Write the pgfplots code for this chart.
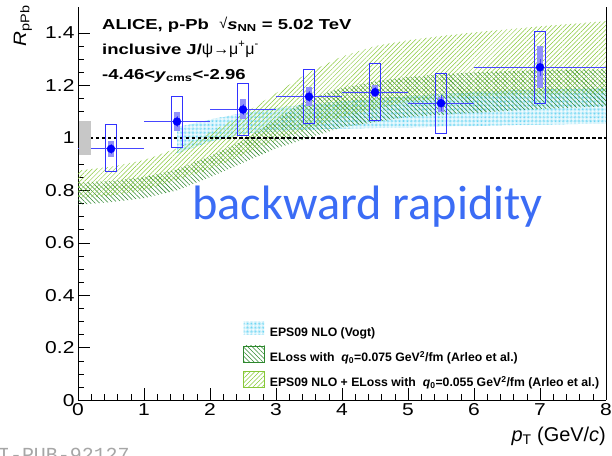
\documentclass[border=0pt]{standalone}
\usepackage{fontspec}
\setmainfont{Liberation Sans}
\newfontfamily\tickfont[FakeStretch=1.22]{Liberation Sans}
\newfontfamily\labfont[FakeStretch=1.15]{Liberation Sans}
\newfontfamily\annfont[FakeStretch=1.28]{Liberation Sans}
\newfontfamily\symfont{Liberation Sans}
\newfontfamily\calib{Carlito}
\newfontfamily\monof{Liberation Mono}
\usepackage{pgfplots}
\pgfplotsset{compat=1.18}
\usetikzlibrary{patterns.meta}
\definecolor{lgreen}{RGB}{135,200,55}
\definecolor{dgreen}{RGB}{45,135,45}
\definecolor{cyanb}{RGB}{80,205,240}
\definecolor{blueline}{RGB}{50,50,255}
\definecolor{barblue}{RGB}{70,70,255}
\definecolor{bluefill}{RGB}{145,145,250}
\definecolor{textblue}{RGB}{59,108,245}
\newcommand{\sysbox}[5]{\addplot[#5, forget plot] coordinates {(#1,#3) (#2,#3) (#2,#4) (#1,#4)} --cycle;}
\begin{document}
\begin{tikzpicture}
\begin{axis}[
  name=ax,
  scale only axis, width=528bp, height=393.5bp,
  xmin=0, xmax=8, ymin=0, ymax=1.5,
  axis x line*=bottom, axis y line*=box,
  xtick={0,1,2,3,4,5,6,7,8}, minor x tick num=4,
  ytick={0,0.2,0.4,0.6,0.8,1,1.2,1.4}, minor y tick num=3,
  xtick pos=bottom, ytick pos=left,
  tick align=inside,
  major tick length=12bp, minor tick length=6bp,
  tick style={black, line width=0.6pt},
  axis line style={line width=0.8pt},
  /pgf/number format/assume math mode=true,
  ticklabel style={font=\tickfont\fontsize{17.3}{19}\selectfont},
  xlabel={\fontsize{20}{22}\selectfont\textit{p}\textsubscript{T} (GeV/\textit{c})},
  xlabel style={at={(rel axis cs:1,-0.104)}, anchor=base east, inner sep=0pt},
  ylabel={\labfont\fontsize{18}{19}\selectfont\textit{R}\textsubscript{pPb}},
  ylabel style={at={(rel axis cs:-0.087,1.005)}, anchor=south east, inner sep=0pt},
  legend style={at={(rel axis cs:0.3125,0.2008)}, anchor=north west, draw=none, fill=none,
    inner sep=0pt, row sep=8bp, column sep=5bp,
    font=\bfseries\fontsize{12.3}{14}\selectfont, nodes={inner sep=0pt}},
  legend cell align=left,
  clip=false,
]
% EPS09 NLO (Vogt)
\addplot[draw=none, pattern={Dots[distance=1.35pt, radius=0.45pt]}, pattern color=cyanb,
  legend image code/.code={\path[pattern={Dots[distance=1.35pt, radius=0.45pt]}, pattern color=cyanb] (0bp,-2bp) rectangle (21bp,11bp);}]
 coordinates {(1.5,1.04) (2,1.07) (2.5,1.095) (3,1.115) (4,1.14) (5,1.16) (6,1.175) (7,1.185) (8,1.19)
  (8,1.055) (7,1.05) (6,1.045) (5,1.04) (4,1.035) (3,1.025) (2.5,1.015) (2,0.985) (1.5,0.94)} --cycle;
\addlegendentry{EPS09 NLO (Vogt)}
% ELoss q0=0.075
\addplot[draw=none, pattern={Lines[angle=-45, distance=3.2pt, line width=0.55pt]}, pattern color=dgreen,
  legend image code/.code={\draw[dgreen, line width=0.7pt, pattern={Lines[angle=-45, distance=3.2pt, line width=0.55pt]}, pattern color=dgreen] (0bp,-5bp) rectangle (21bp,11bp);}]
 coordinates {(0,0.83) (0.5,0.835) (1,0.85) (1.5,0.88) (2,0.93) (2.5,0.99) (3,1.07) (3.5,1.15) (4,1.19) (4.5,1.215) (5,1.232) (5.5,1.242) (6,1.25) (7,1.258) (8,1.262)
  (8,1.12) (7,1.11) (6,1.095) (5,1.08) (4,1.04) (3,0.96) (2,0.85) (1.5,0.80) (1,0.77) (0.5,0.755) (0,0.745)} --cycle;
\addlegendentry{ELoss with~ \textit{q}\textsubscript{0}=0.075 GeV\textsuperscript{2}/fm (Arleo et al.)}
% EPS09 NLO + ELoss q0=0.055
\addplot[draw=none, pattern={Lines[angle=45, distance=3.2pt, line width=0.5pt]}, pattern color=lgreen,
  legend image code/.code={\draw[lgreen, line width=0.7pt, pattern={Lines[angle=45, distance=3.2pt, line width=0.5pt]}, pattern color=lgreen] (0bp,-5bp) rectangle (21bp,11bp);}]
 coordinates {(0,0.875) (0.5,0.89) (1,0.915) (1.5,0.96) (2,1.02) (2.5,1.09) (3,1.17) (3.5,1.25) (4,1.31) (4.5,1.35) (5,1.372) (5.5,1.388) (6,1.402) (7,1.425) (8,1.445)
  (8,1.17) (7,1.165) (6,1.16) (5,1.14) (4,1.08) (3,0.99) (2,0.88) (1,0.80) (0.5,0.78) (0,0.77)} --cycle;
\addlegendentry{EPS09 NLO + ELoss with~ \textit{q}\textsubscript{0}=0.055 GeV\textsuperscript{2}/fm (Arleo et al.)}
% unity line
\addplot[black, line width=1.4pt, dash pattern=on 3.5pt off 2.5pt, forget plot] coordinates {(0,1) (8,1)};
% correlated syst boxes (filled)
\sysbox{0.455}{0.545}{0.928}{0.989}{fill=bluefill, draw=none}
\sysbox{1.455}{1.545}{1.028}{1.098}{fill=bluefill, draw=none}
\sysbox{2.455}{2.545}{1.072}{1.148}{fill=bluefill, draw=none}
\sysbox{3.455}{3.545}{1.123}{1.194}{fill=bluefill, draw=none}
\sysbox{4.455}{4.545}{1.155}{1.200}{fill=bluefill, draw=none}
\sysbox{5.455}{5.545}{1.100}{1.156}{fill=bluefill, draw=none}
\sysbox{6.955}{7.045}{1.190}{1.349}{fill=bluefill, draw=none}
% uncorrelated syst boxes (open)
\sysbox{0.42}{0.58}{0.870}{1.050}{draw=blueline, line width=1pt}
\sysbox{1.42}{1.58}{0.965}{1.158}{draw=blueline, line width=1pt}
\sysbox{2.42}{2.58}{1.010}{1.208}{draw=blueline, line width=1pt}
\sysbox{3.42}{3.58}{1.053}{1.262}{draw=blueline, line width=1pt}
\sysbox{4.42}{4.58}{1.068}{1.285}{draw=blueline, line width=1pt}
\sysbox{5.42}{5.58}{1.015}{1.247}{draw=blueline, line width=1pt}
\sysbox{6.92}{7.08}{1.132}{1.405}{draw=blueline, line width=1pt}
% data points with stat errors
\addplot[only marks, mark=*, mark size=4pt, color=blue, forget plot,
  error bars/.cd, x dir=both, x explicit, y dir=both, y explicit,
  error mark=none, error bar style={draw=barblue, color=barblue, solid, line width=1pt}]
 coordinates {
  (0.5,0.958) +- (0.5,0.02)
  (1.5,1.062) +- (0.5,0.02)
  (2.5,1.108) +- (0.5,0.02)
  (3.5,1.157) +- (0.5,0.02)
  (4.5,1.174) +- (0.5,0.02)
  (5.5,1.132) +- (0.5,0.03)
  (7.0,1.269) +- (1.0,0.033)
 };
% global uncertainty
\sysbox{0.01}{0.2}{0.935}{1.065}{fill=black!22, draw=none}
% texts
\node[anchor=base west, inner sep=0pt, font=\annfont\bfseries\fontsize{14.5}{16}\selectfont] at (axis cs:0.364,1.414)
  {ALICE, p-Pb~ \raisebox{0.1ex}{\symfont\mdseries √}\textit{s}\textsubscript{NN} = 5.02 TeV};
\node[anchor=base west, inner sep=0pt, font=\annfont\bfseries\fontsize{14.5}{16}\selectfont] at (axis cs:0.364,1.319)
  {inclusive J/{\symfont\mdseries\fontsize{16}{17}\selectfont ψ→μ\textsuperscript{+}μ\textsuperscript{-}}};
\node[anchor=base west, inner sep=0pt, font=\annfont\bfseries\fontsize{14.5}{16}\selectfont] at (axis cs:0.364,1.224)
  {-4.46<\textit{y}\textsubscript{cms}<-2.96};
\node[anchor=base west, inner sep=0pt, text=textblue, font=\calib\fontsize{48.5}{50}\selectfont] at (axis cs:1.727,0.688)
  {backward rapidity};
\end{axis}
\node[anchor=base west, inner sep=0pt, text=black!35, font=\monof\fontsize{20}{22}\selectfont] at ([shift={(-104bp,-61bp)}]ax.south west) {ALI-PUB-92127};
\pgfresetboundingbox
\path ([shift={(-78bp,-55bp)}]ax.south west) rectangle ([shift={(6bp,6.7bp)}]ax.north east);
\end{tikzpicture}
\end{document}
